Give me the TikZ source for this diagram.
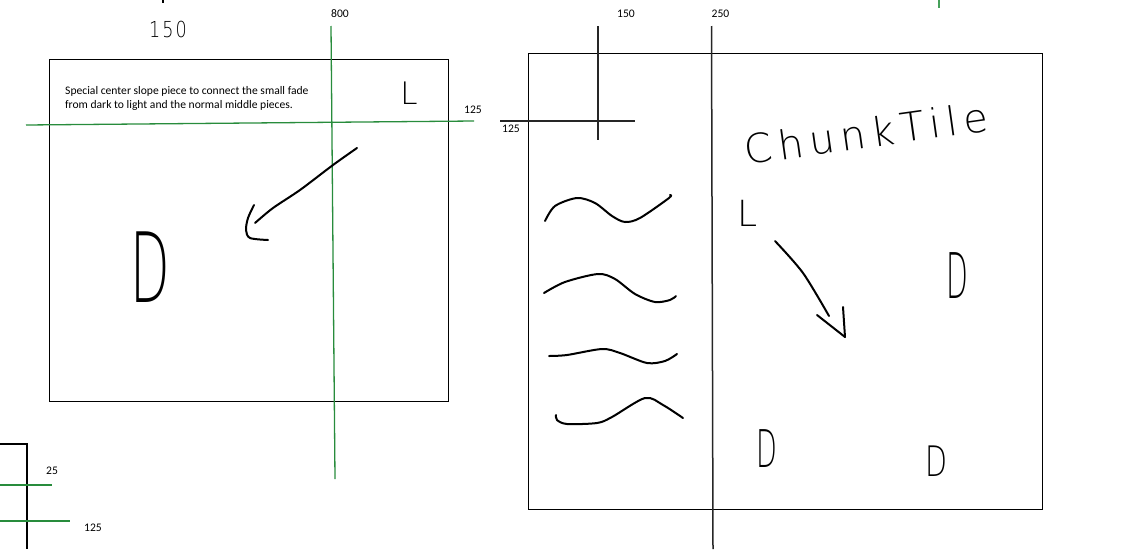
\documentclass[tikz,border=0pt]{standalone}
\usepackage{fontspec}
\setmainfont{Carlito}
\IfFontExistsTF{DejaVu Sans ExtraLight}{\newfontfamily\hand{DejaVu Sans ExtraLight}\newfontfamily\handwide{DejaVu Sans ExtraLight}[LetterSpace=12]\newfontfamily\handwider{DejaVu Sans ExtraLight}[LetterSpace=15]}{\newfontfamily\hand{DejaVu Sans}\newfontfamily\handwide{DejaVu Sans}[LetterSpace=12]\newfontfamily\handwider{DejaVu Sans}[LetterSpace=15]}
\definecolor{gline}{RGB}{40,140,60}
\definecolor{gtick}{RGB}{70,160,90}
\begin{document}
\begin{tikzpicture}[x=1pt,y=-1pt,
  boxframe/.style={draw=black, line width=1.3pt},
  guide/.style={draw=gline, line width=1.3pt},
  blackguide/.style={draw=black!85, line width=1.5pt},
  ink/.style={draw=black, line width=2pt, line cap=round, line join=round},
  lbl/.style={font=\fontsize{11.6}{13}\selectfont, inner sep=0pt, anchor=base west},
  handtxt/.style={inner sep=0pt, text=black}]
\path[use as bounding box] (0,0) rectangle (1126,549);

% ---- left box ----
\node[boxframe, minimum width=399pt, minimum height=342pt, anchor=north west, inner sep=0pt] (leftbox) at (49,59) {};
\node[lbl] (desc1) at (65,94) {Special center slope piece to connect the small fade};
\node[lbl] (desc2) at (65,108) {from dark to light and the normal middle pieces.};
\node[handtxt, font=\hand\fontsize{31}{31}\selectfont] (lL) at (409,93) {L};
\node[handtxt, font=\hand\fontsize{97}{97}\selectfont, xscale=0.53] (lD) at (150,267) {D};
\node[handtxt, font=\handwide\fontsize{22}{22}\selectfont, xscale=0.8] (h150) at (168,29) {150};

% green guides
\coordinate (gh1) at (26,125); \coordinate (gh2) at (474,121);
\draw[guide] (gh1) -- (gh2);
\node[lbl] (g125) at (464,113) {125};
\coordinate (gv1) at (331,26); \coordinate (gv2) at (335,479);
\draw[guide] (gv1) -- (gv2);
\node[lbl] (g800) at (331,17.5) {800};

% left arrow
\draw[ink] plot[smooth] coordinates {(357,148) (333,165) (300,190) (273,208) (255,223)};
\draw[ink] plot[smooth] coordinates {(254,205) (248,218) (246,230) (250,238) (268,240)};

% top mark
\coordinate (tm1) at (163,0); \coordinate (tm2) at (163,3);
\draw[black, line width=1.5pt] (tm1) -- (tm2);

% ---- right box ----
\node[boxframe, minimum width=514pt, minimum height=456pt, anchor=north west, inner sep=0pt] (rightbox) at (528,53) {};
\coordinate (v150a) at (598,26); \coordinate (v150b) at (598,140);
\draw[blackguide] (v150a) -- (v150b);
\node[lbl] (r150) at (617,17.5) {150};
\coordinate (h125a) at (500,121); \coordinate (h125b) at (635,121);
\draw[blackguide] (h125a) -- (h125b);
\node[lbl] (r125) at (502,132) {125};
\coordinate (v250a) at (711.5,26); \coordinate (v250b) at (713,549);
\draw[blackguide] (v250a) -- (v250b);
\node[lbl] (r250) at (711.5,17.5) {250};
\coordinate (gt1) at (939,0); \coordinate (gt2) at (939,7.5);
\draw[draw=gtick, line width=1.3pt] (gt1) -- (gt2);

\node[handtxt, font=\handwider\fontsize{40}{40}\selectfont, rotate=8] (chunk) at (866,133) {ChunkTile};
\node[handtxt, font=\hand\fontsize{36}{36}\selectfont] (rL) at (748,213) {L};
\node[handtxt, font=\hand\fontsize{63}{63}\selectfont, xscale=0.45] (rD1) at (957,276) {D};
\node[handtxt, font=\hand\fontsize{52}{52}\selectfont, xscale=0.52] (rD2) at (767,449) {D};
\node[handtxt, font=\hand\fontsize{42}{42}\selectfont, xscale=0.68] (rD3) at (936,461) {D};

% waves
\draw[ink] plot[smooth] coordinates {(545,221) (555,206) (577,198) (595,203) (612,216) (625,222) (640,218) (669,198) (670,195)};
\draw[ink] plot[smooth] coordinates {(544,293) (565,282) (598,274) (615,279) (635,294) (655,302) (670,300) (676,296)};
\draw[ink] plot[smooth] coordinates {(549,356) (567,355) (602,349) (620,353) (647,363) (665,361) (677,354)};
\draw[ink] plot[smooth] coordinates {(556,415) (557,420) (567,424) (597,423) (612,417) (645,398) (663,405) (683,418)};

% right arrow
\draw[ink] plot[smooth] coordinates {(775,241) (803,273) (829,316)};
\coordinate (ah0) at (817,315); \coordinate (ahtip) at (845,337); \coordinate (ah1) at (843,307);
\draw[ink] (ah0) -- (ahtip);
\draw[ink] (ah1) -- (ahtip);

% ---- bottom-left fragments ----
\coordinate (bl1) at (0,444); \coordinate (bl2) at (27,444); \coordinate (bl3) at (27,549);
\draw[boxframe] (bl1) -- (bl2) -- (bl3);
\coordinate (bg1a) at (0,485); \coordinate (bg1b) at (52,485);
\draw[guide] (bg1a) -- (bg1b);
\node[lbl] (b25) at (46,474) {25};
\coordinate (bg2a) at (0,521); \coordinate (bg2b) at (70,521);
\draw[guide] (bg2a) -- (bg2b);
\node[lbl] (b125) at (84,531) {125};
\end{tikzpicture}
\end{document}
